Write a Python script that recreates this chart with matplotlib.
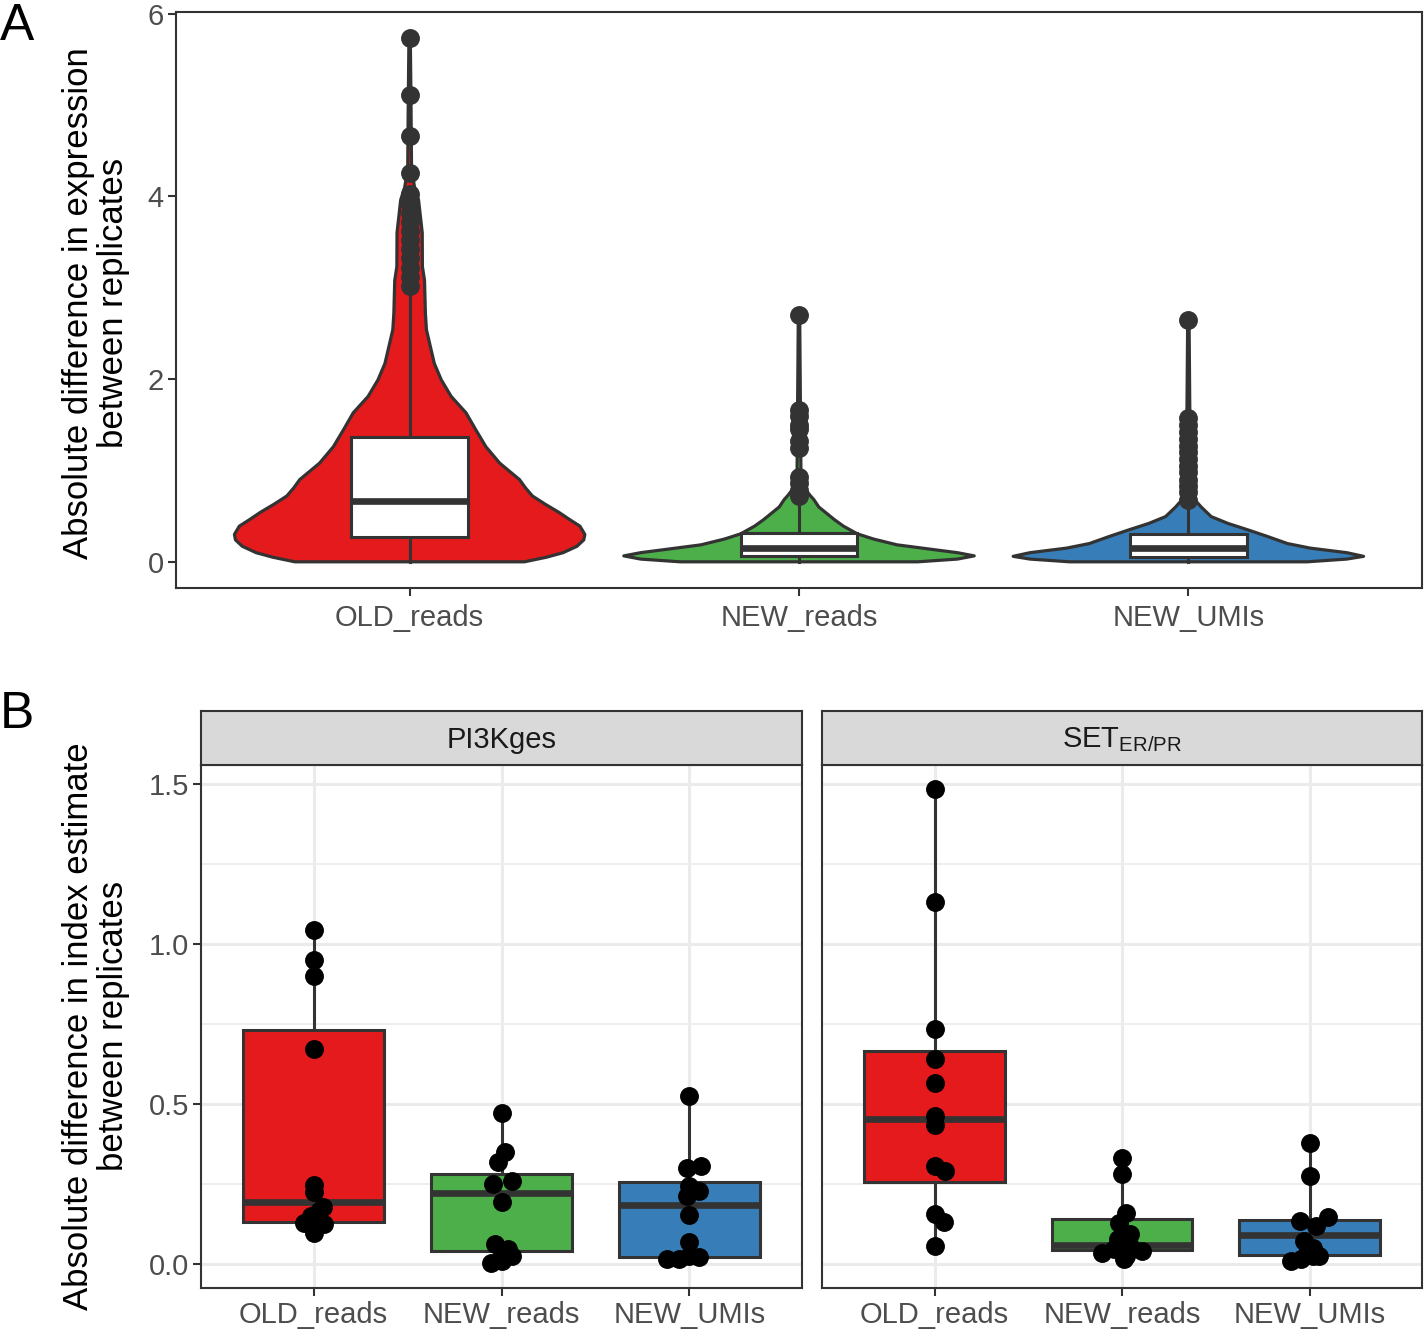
import matplotlib
matplotlib.use('Agg')
import matplotlib.pyplot as plt
import numpy as np
from matplotlib.patches import Rectangle

plt.rcParams['font.family'] = ['Liberation Sans', 'DejaVu Sans']
plt.rcParams['mathtext.fontset'] = 'custom'
plt.rcParams['mathtext.rm'] = 'Liberation Sans'
plt.rcParams['mathtext.it'] = 'Liberation Sans:italic'

# ---------------- data ----------------
categories = ['OLD_reads', 'NEW_reads', 'NEW_UMIs']
fill_colors = ['#E41A1C', '#4DAF4A', '#377EB8']

# Panel A: violin outlines (value, relative density width)
violin_old_y = [0.00, 0.05, 0.10, 0.17, 0.24, 0.30, 0.39, 0.46, 0.54, 0.63, 0.72, 0.81, 0.90,
                1.08, 1.26, 1.37, 1.44, 1.63, 1.81, 1.99, 2.17, 2.35, 2.54, 2.72, 3.08, 3.23,
                3.60, 3.96, 4.10, 4.30, 5.00, 5.73]
violin_old_d = [0.655, 0.780, 0.876, 0.955, 0.994, 1.000, 0.972, 0.915, 0.853, 0.774, 0.701,
                0.661, 0.627, 0.514, 0.435, 0.401, 0.379, 0.322, 0.237, 0.181, 0.141, 0.119,
                0.096, 0.090, 0.085, 0.073, 0.072, 0.051, 0.028, 0.011, 0.008, 0.004]
violin_newr_y = [0.00, 0.03, 0.065, 0.10, 0.138, 0.186, 0.25, 0.306, 0.39, 0.46, 0.53, 0.60,
                 0.68, 0.73, 0.80, 0.90, 1.00, 2.70]
violin_newr_d = [0.678, 0.904, 1.000, 0.904, 0.751, 0.559, 0.424, 0.333, 0.254, 0.203, 0.158,
                 0.113, 0.085, 0.062, 0.034, 0.017, 0.011, 0.004]
violin_newu_y = [0.00, 0.03, 0.06, 0.10, 0.15, 0.20, 0.277, 0.35, 0.42, 0.495, 0.60, 0.66,
                 0.75, 0.90, 1.00, 2.645]
violin_newu_d = [0.678, 0.904, 1.000, 0.904, 0.695, 0.565, 0.452, 0.339, 0.226, 0.130, 0.073,
                 0.045, 0.023, 0.014, 0.011, 0.004]

# Panel A box statistics: [whisker low, Q1, median, Q3, whisker high]
boxA_old = [0.00, 0.27, 0.665, 1.37, 3.00]
boxA_newr = [0.00, 0.06, 0.151, 0.313, 0.71]
boxA_newu = [0.00, 0.05, 0.153, 0.306, 0.66]

# Panel A outliers
outA_old = [5.73, 5.11, 4.66, 4.25, 4.03, 3.92, 3.82, 3.72, 3.62, 3.52, 3.42, 3.32, 3.22,
            3.12, 3.02]
outA_newr = [2.70, 1.66, 1.60, 1.50, 1.45, 1.32, 1.25, 0.93, 0.86, 0.79, 0.72]
outA_newu = [2.645, 1.57, 1.50, 1.42, 1.34, 1.27, 1.20, 1.12, 1.05, 0.98, 0.90, 0.83,
             0.76, 0.68]

# Panel B
facets = ['PI3Kges', r'SET$_{\mathregular{ER/PR}}$']

boxB_pi3k_old = [0.098, 0.131, 0.194, 0.731, 1.044]
boxB_pi3k_newr = [0.005, 0.042, 0.222, 0.283, 0.471]
boxB_pi3k_newu = [0.016, 0.021, 0.184, 0.257, 0.526]
boxB_set_old = [0.057, 0.257, 0.455, 0.665, 1.485]
boxB_set_newr = [0.016, 0.045, 0.060, 0.140, 0.333]
boxB_set_newu = [0.010, 0.028, 0.090, 0.138, 0.378]

ptsB_pi3k_old = [1.044, 0.951, 0.900, 0.672, 0.247, 0.225, 0.178, 0.165, 0.150, 0.128, 0.125, 0.098]
jitB_pi3k_old = [0.0, 0.0, 0.0, 0.0, 0.0, 0.0, 0.048, 0.027, -0.016, -0.053, 0.053, 0.0]
ptsB_pi3k_newr = [0.471, 0.351, 0.320, 0.260, 0.250, 0.195, 0.062, 0.047, 0.026, 0.005, 0.010, 0.036]
jitB_pi3k_newr = [0.0, 0.016, -0.016, 0.058, -0.043, 0.0, -0.037, 0.032, 0.058, -0.058, 0.005, 0.0]
ptsB_pi3k_newu = [0.526, 0.307, 0.302, 0.245, 0.229, 0.214, 0.154, 0.068, 0.021, 0.016, 0.016, 0.026]
jitB_pi3k_newu = [0.0, 0.064, -0.011, 0.0, 0.053, -0.011, 0.0, 0.0, 0.053, -0.117, -0.053, 0.0]
ptsB_set_old = [1.485, 1.131, 0.734, 0.640, 0.565, 0.462, 0.434, 0.307, 0.292, 0.156, 0.132, 0.057]
jitB_set_old = [0.0, 0.0, 0.0, 0.0, 0.0, 0.0, 0.0, 0.0, 0.058, 0.0, 0.048, 0.0]
ptsB_set_newr = [0.333, 0.281, 0.161, 0.130, 0.094, 0.078, 0.036, 0.047, 0.042, 0.026, 0.057, 0.016]
jitB_set_newr = [0.0, 0.0, 0.021, -0.016, 0.043, -0.021, -0.106, -0.043, 0.106, 0.021, 0.043, 0.011]
ptsB_set_newu = [0.378, 0.276, 0.146, 0.135, 0.120, 0.073, 0.052, 0.036, 0.026, 0.010, 0.016, 0.026]
jitB_set_newu = [0.0, 0.0, 0.096, -0.053, 0.032, -0.027, 0.016, -0.016, 0.048, -0.101, -0.048, 0.016]

yticksA = [0, 2, 4, 6]
yticksB = [0.0, 0.5, 1.0, 1.5]
ytick_labelsB = ['0.0', '0.5', '1.0', '1.5']

# ---------------- styling ----------------
DARK = '#333333'
TICKC = '#4D4D4D'
GRID = '#EBEBEB'
W, H = 1424, 1330

fig = plt.figure(figsize=(W / 100, H / 100), dpi=100)


def fax(l, t, r, b):
    return fig.add_axes([l / W, 1 - b / H, (r - l) / W, (b - t) / H])


def style_axes(ax):
    for s in ax.spines.values():
        s.set_color(DARK)
        s.set_linewidth(1.5)
    ax.tick_params(axis='both', length=5.8, width=1.5, color=DARK, labelcolor=TICKC,
                   labelsize=21, pad=3)


# ---------------- Panel A ----------------
axA = fax(176, 12, 1422, 588)
style_axes(axA)
violins = [(violin_old_y, violin_old_d), (violin_newr_y, violin_newr_d),
           (violin_newu_y, violin_newu_d)]
boxesA = [boxA_old, boxA_newr, boxA_newu]
outsA = [outA_old, outA_newr, outA_newu]
VW = 0.9
BW_A = 0.3
for i in range(3):
    xc = i + 1
    vy = np.array(violins[i][0])
    vd = np.array(violins[i][1]) * VW / 2
    xs = np.concatenate([xc - vd, (xc + vd)[::-1]])
    ys = np.concatenate([vy, vy[::-1]])
    axA.fill(xs, ys, facecolor=fill_colors[i], edgecolor=DARK, lw=2.3, zorder=2,
             joinstyle='round')
    lo, q1, med, q3, hi = boxesA[i]
    axA.plot([xc, xc], [q3, hi], color=DARK, lw=2.2, zorder=3)
    axA.plot([xc, xc], [lo, q1], color=DARK, lw=2.2, zorder=3)
    axA.add_patch(Rectangle((xc - BW_A / 2, q1), BW_A, q3 - q1, facecolor='white',
                            edgecolor=DARK, lw=2.2, zorder=4))
    axA.plot([xc - BW_A / 2, xc + BW_A / 2], [med, med], color=DARK, lw=4.8, zorder=5,
             solid_capstyle='butt')
    axA.scatter(np.full(len(outsA[i]), xc), outsA[i], s=185, color=DARK, linewidths=0,
                zorder=6)

axA.set_xlim(0.4, 3.6)
axA.set_ylim(-0.2865, 6.0165)
axA.set_xticks([1, 2, 3])
axA.set_xticklabels(categories)
axA.set_yticks(yticksA)
axA.set_yticklabels([str(v) for v in yticksA])
axA.tick_params(axis='x', pad=6)

fig.text(96 / W, 1 - 303 / H, 'Absolute difference in expression\nbetween replicates',
         rotation=90, ha='center', va='center', fontsize=25, multialignment='center',
         linespacing=1.08, color='black')
fig.text(0 / W, 1 - 2 / H, 'A', fontsize=37, ha='left', va='top', color='black')

# ---------------- Panel B ----------------
boxesB = [[boxB_pi3k_old, boxB_pi3k_newr, boxB_pi3k_newu],
          [boxB_set_old, boxB_set_newr, boxB_set_newu]]
ptsB = [[ptsB_pi3k_old, ptsB_pi3k_newr, ptsB_pi3k_newu],
        [ptsB_set_old, ptsB_set_newr, ptsB_set_newu]]
jitB = [[jitB_pi3k_old, jitB_pi3k_newr, jitB_pi3k_newu],
        [jitB_set_old, jitB_set_newr, jitB_set_newu]]
BW_B = 0.75
facet_px = [(201, 802), (822, 1422)]
for f in range(2):
    l, r = facet_px[f]
    ax = fax(l, 765, r, 1288)
    style_axes(ax)
    ax.set_axisbelow(True)
    ax.set_xlim(0.4, 3.6)
    ax.set_ylim(-0.0743, 1.5593)
    ax.set_yticks(yticksB)
    ax.set_yticks([0.25, 0.75, 1.25], minor=True)
    ax.set_xticks([1, 2, 3])
    ax.set_xticklabels(categories)
    ax.grid(True, which='major', color=GRID, lw=2.2)
    ax.grid(True, which='minor', axis='y', color=GRID, lw=1.2)
    ax.tick_params(axis='y', which='minor', length=0)
    ax.tick_params(axis='x', pad=3.5)
    if f == 0:
        ax.set_yticklabels(ytick_labelsB)
    else:
        ax.set_yticklabels([])
        ax.tick_params(axis='y', which='major', length=0)
    for i in range(3):
        xc = i + 1
        lo, q1, med, q3, hi = boxesB[f][i]
        ax.plot([xc, xc], [q3, hi], color=DARK, lw=2.2, zorder=3)
        ax.plot([xc, xc], [lo, q1], color=DARK, lw=2.2, zorder=3)
        ax.add_patch(Rectangle((xc - BW_B / 2, q1), BW_B, q3 - q1,
                               facecolor=fill_colors[i], edgecolor=DARK, lw=2.2, zorder=4))
        ax.plot([xc - BW_B / 2, xc + BW_B / 2], [med, med], color=DARK, lw=4.8, zorder=5,
                solid_capstyle='butt')
        xs = xc + np.array(jitB[f][i])
        ax.scatter(xs, ptsB[f][i], s=185, color='black', linewidths=0, zorder=6)

    st = fax(l, 711, r, 765)
    st.set_facecolor('#D9D9D9')
    for s in st.spines.values():
        s.set_color(DARK)
        s.set_linewidth(1.5)
    st.set_xticks([])
    st.set_yticks([])
    st.text(0.5, 0.47, facets[f], transform=st.transAxes, ha='center', va='center',
            fontsize=21, color='#1A1A1A')

fig.text(96 / W, 1 - 1026 / H, 'Absolute difference in index estimate\nbetween replicates',
         rotation=90, ha='center', va='center', fontsize=25, multialignment='center',
         linespacing=1.08, color='black')
fig.text(0 / W, 1 - 690 / H, 'B', fontsize=37, ha='left', va='top', color='black')

fig.savefig('out.png', dpi=100, facecolor='white')
